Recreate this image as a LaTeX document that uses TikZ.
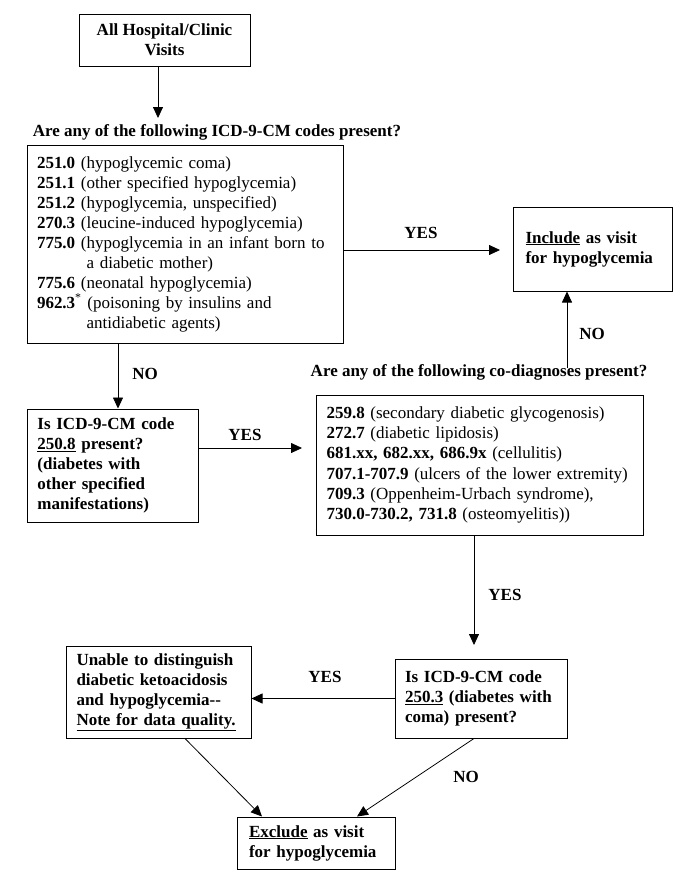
\documentclass[tikz,border=0pt]{standalone}
\usepackage{fontspec}
\setmainfont{Liberation Serif}
\usetikzlibrary{arrows.meta}
\begin{document}
\begin{tikzpicture}[x=1pt,y=-1pt,
  box/.style={draw,line width=1pt,inner sep=0pt,align=left,font=\fontsize{17}{20}\selectfont,
    execute at begin node={\hyphenpenalty=10000}},
  bbox/.style={box,font=\fontsize{17}{20}\selectfont\bfseries},
  arr/.style={-{Triangle[length=11pt,width=10pt]},line width=.8pt},
  lab/.style={font=\fontsize{17}{20}\selectfont\bfseries,inner sep=0pt}]
\useasboundingbox (0,0) rectangle (685,895);
\node[bbox,align=center,minimum width=171pt,minimum height=52pt] (start) at (164.5,40) {All Hospital/Clinic\\Visits};
\node[lab] (q1) at (217,132) {Are any of the following ICD-9-CM codes present?};
\node[box,minimum width=316pt,minimum height=198pt,text width=296pt] (codes) at (185,244) {%
\textbf{251.0} (hypoglycemic coma)\\
\textbf{251.1} (other specified hypoglycemia)\\
\textbf{251.2} (hypoglycemia, unspecified)\\
\textbf{270.3} (leucine-induced hypoglycemia)\\
\textbf{775.0} (hypoglycemia in an infant born to\\
\phantom{\textbf{775.0} (}a diabetic mother)\\
\textbf{775.6} (neonatal hypoglycemia)\\
\textbf{962.3}\textsuperscript{*} (poisoning by insulins and\\
\phantom{\textbf{775.0} (}antidiabetic agents)};
\node[bbox,minimum width=159pt,minimum height=84pt,text width=134pt] (incl) at (592.5,249) {\underline{Include} as visit\\for hypoglycemia};
\node[bbox,minimum width=171pt,minimum height=113pt,text width=150pt] (q8) at (112.5,465.5) {Is ICD-9-CM code\\\underline{250.8} present?\\(diabetes with\\other specified\\manifestations)};
\node[lab] (q2) at (479,372) {Are any of the following co-diagnoses present?};
\node[box,font=\fontsize{17}{20.3}\selectfont,minimum width=327pt,minimum height=140pt,text width=306pt] (codiag) at (479.5,465) {%
\textbf{259.8} (secondary diabetic glycogenosis)\\
\textbf{272.7} (diabetic lipidosis)\\
\textbf{681.xx, 682.xx, 686.9x} (cellulitis)\\
\textbf{707.1-707.9} (ulcers of the lower extremity)\\
\textbf{709.3} (Oppenheim-Urbach syndrome),\\
\textbf{730.0-730.2, 731.8} (osteomyelitis))};
\node[bbox,minimum width=172pt,minimum height=79pt,text width=152pt] (q3) at (481,698.5) {Is ICD-9-CM code\\\underline{250.3} (diabetes with\\coma) present?};
\node[bbox,minimum width=185pt,minimum height=92pt,text width=164pt] (unable) at (158.5,692) {Unable to distinguish\\diabetic ketoacidosis\\and hypoglycemia-{}-\\\underline{Note for data quality.}};
\node[bbox,minimum width=158pt,minimum height=52pt,text width=134pt] (excl) at (316,843) {\underline{Exclude} as visit\\for hypoglycemia};
\coordinate (t1) at (158,118);
\coordinate (t2) at (500,250);
\coordinate (c3) at (118,0);
\coordinate (t4) at (302,448);
\coordinate (c5) at (567,368);
\coordinate (t6) at (474,645);
\draw[arr] (start.south -| t1) -- (t1);
\draw[arr] (codes.east |- t2) -- (t2);
\draw[arr] (codes.south -| c3) -- (q8.north -| c3);
\draw[arr] (q8.east |- t4) -- (t4);
\draw[arr] (c5) -- (incl.south -| c5);
\draw[arr] (codiag.south -| t6) -- (t6);
\draw[arr] (q3.west) -- (q3.west -| unable.east);
\draw[arr] ([xshift=26.5pt]unable.south) -- ([xshift=-54pt]excl.north);
\draw[arr] ([xshift=-7pt]q3.south) -- ([xshift=41pt]excl.north);
\node[lab] (yes1) at (421,233) {YES};
\node[lab] (no1) at (145,374) {NO};
\node[lab] (yes2) at (245,435) {YES};
\node[lab] (no2) at (592,334) {NO};
\node[lab] (yes3) at (505,595) {YES};
\node[lab] (yes4) at (325,677) {YES};
\node[lab] (no3) at (466,777) {NO};
\end{tikzpicture}
\end{document}
